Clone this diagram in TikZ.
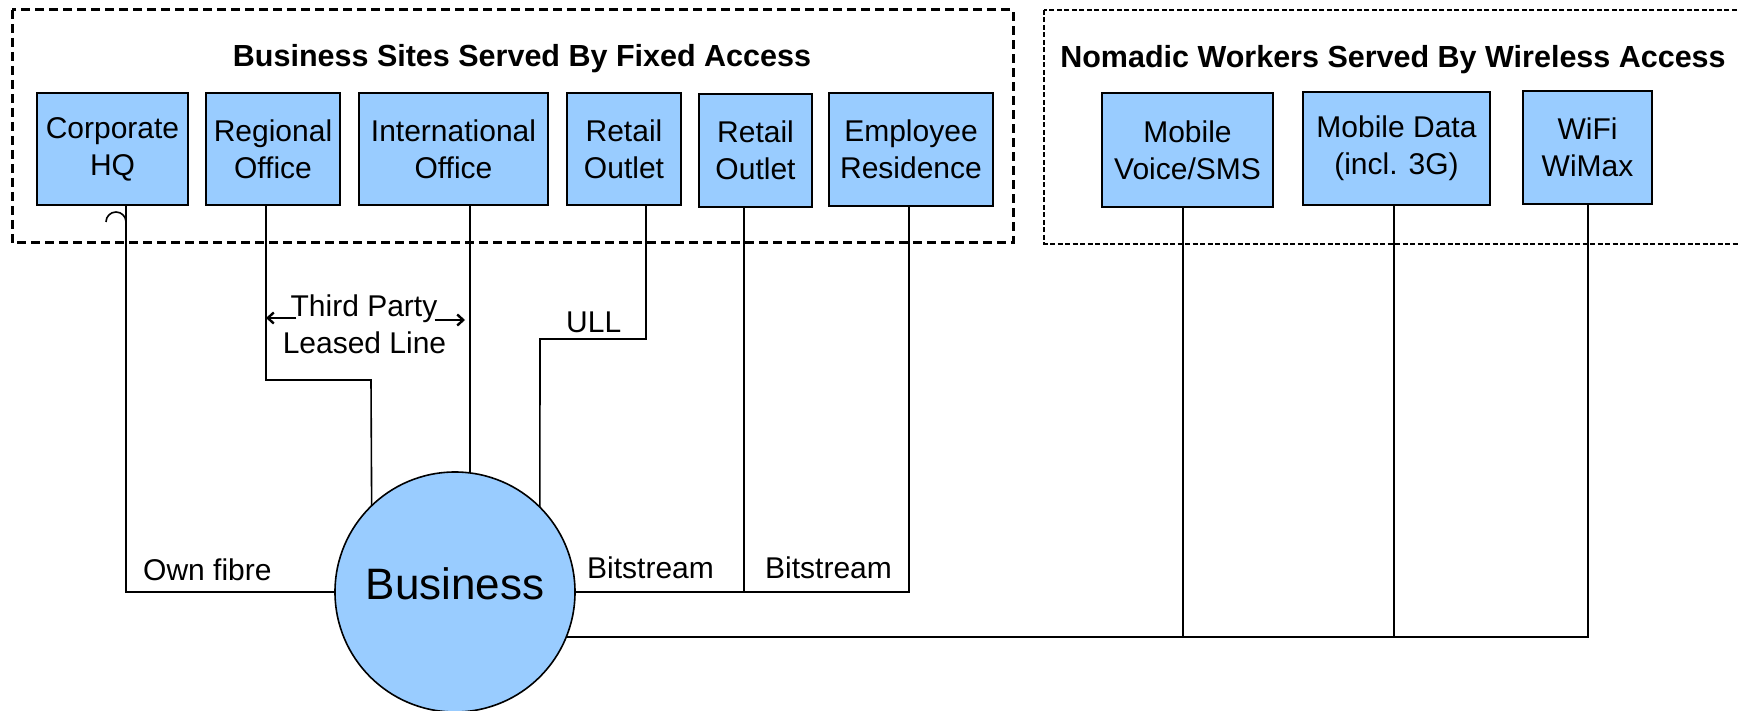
\documentclass[tikz,border=0pt]{standalone}
\usepackage{fontspec}
\setmainfont{Liberation Sans}
\usetikzlibrary{arrows.meta}
\definecolor{siteblue}{HTML}{99CCFF}
\begin{document}
\begin{tikzpicture}[x=1pt, y=-1pt,
  site/.style={draw, line width=1.6pt, fill=siteblue, align=center,
    inner sep=0pt, outer sep=0pt, font=\fontsize{30}{37}\selectfont},
  hub/.style={circle, draw, line width=1.6pt, fill=siteblue,
    minimum size=240, inner sep=0pt, outer sep=0pt},
  link/.style={line width=1.6pt},
  lbl/.style={inner sep=0pt, font=\fontsize{30}{37}\selectfont},
  grouptitle/.style={inner sep=0pt, font=\bfseries\fontsize{30.5}{36}\selectfont},
  arr/.style={line width=2.4pt, -{Straight Barb[length=6pt,width=11pt]}},
  fixedgroup/.style={line width=3pt, dash pattern=on 9pt off 5pt},
  wirelessgroup/.style={line width=2.8pt, dash pattern=on 5pt off 2.5pt}]

\useasboundingbox (0,0) rectangle (1739,711);
\clip (0,0) rectangle (1739,711);

% group frames
\draw[fixedgroup] (12,10) rectangle (1013,243);
\draw[wirelessgroup] (1044,10) rectangle (1760,244);

\node[grouptitle, anchor=base] (fixedtitle) at (522,67) {Business Sites Served By Fixed Access};
\node[grouptitle, anchor=base] (wirelesstitle) at (1393,68) {Nomadic Workers Served By Wireless Access};

% sites with fixed access
\node[site, minimum width=151, minimum height=112] (corp) at (112.5,149) {Corporate\\HQ};
\node[site, minimum width=134, minimum height=112] (reg)  at (273,149)   {Regional\\Office};
\node[site, minimum width=189, minimum height=112] (intl) at (453.5,149) {International\\Office};
\node[site, minimum width=114, minimum height=112] (ret1) at (624,149)   {Retail\\Outlet};
\node[site, minimum width=113, minimum height=113] (ret2) at (755.5,150.5) {Retail\\Outlet};
\node[site, minimum width=164, minimum height=113] (emp)  at (911,149.5) {Employee\\Residence};

% wireless services
\node[site, minimum width=171, minimum height=114] (voice) at (1187.5,150) {Mobile\\Voice/SMS};
\node[site, minimum width=187, minimum height=113] (data)  at (1396.5,148.5) {Mobile Data\\(incl. 3G)};
\node[site, minimum width=129, minimum height=113] (wifi)  at (1587.5,147.5) {WiFi\\WiMax};

% the business hub
\node[hub] (biz) at (455,592) {};
\node[lbl, font=\fontsize{44}{50}\selectfont] (biztext) at ([yshift=8pt]biz.center) {Business};

% drop points under each site
\coordinate (corpdrop)  at ([xshift=13.5pt]corp.south);
\coordinate (regdrop)   at ([xshift=-7pt]reg.south);
\coordinate (intdrop)   at ([xshift=16.5pt]intl.south);
\coordinate (ret1drop)  at ([xshift=22pt]ret1.south);
\coordinate (ret2drop)  at ([xshift=-11.5pt]ret2.south);
\coordinate (empdrop)   at ([xshift=-2pt]emp.south);
\coordinate (voicedrop) at ([xshift=-4.5pt]voice.south);
\coordinate (datadrop)  at ([xshift=-2.5pt]data.south);
\coordinate (wifidrop)  at ([xshift=0.5pt]wifi.south);
\coordinate (regbend)   at (371,380);
\coordinate (ullbend)   at (540,339);

% own fibre
\draw[link] (corpdrop) |- (biz.west);
\draw[link] (106,222) arc[start angle=180, end angle=360, radius=10];
% third party leased lines
\draw[link] (regdrop) |- (regbend) -- (biz.134.4);
\draw[link] (intdrop) -- (intdrop |- biz.82.8);
% unbundled local loop
\draw[link] (ret1drop) |- (ullbend) -- (biz.45);
% bitstream
\draw[link] (biz.east) -| (empdrop);
\draw[link] (ret2drop) -- (ret2drop |- biz.east);
% wireless access
\draw[link] (biz.-22) -| (wifidrop);
\draw[link] (voicedrop) -- (voicedrop |- biz.-22);
\draw[link] (datadrop) -- (datadrop |- biz.-22);

% link labels
\node[lbl, anchor=base west] (ownfibre) at (143,580) {Own fibre};
\node[lbl, anchor=base] (tp1) at (364,316) {Third Party};
\node[lbl, anchor=base] (tp2) at (364.5,353) {Leased Line};
\node[lbl, anchor=base west] (ull) at (566,332) {ULL};
\node[lbl, anchor=base west] (bits1) at (587,578) {Bitstream};
\node[lbl, anchor=base west] (bits2) at (765,578) {Bitstream};

\coordinate (tpL) at ([xshift=6pt,yshift=-2pt]tp1.base west);
\coordinate (tpR) at ([xshift=-3pt,yshift=-4pt]tp1.base east);
\coordinate (intstop) at ([xshift=-5pt]intdrop);
\draw[arr] (tpL) -- (tpL -| regdrop);
\draw[arr] (tpR) -- (tpR -| intstop);
\end{tikzpicture}
\end{document}
